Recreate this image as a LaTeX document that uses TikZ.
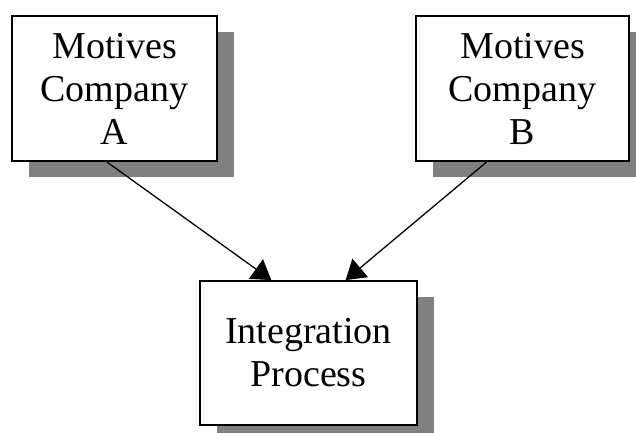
\documentclass[tikz,border=0pt]{standalone}
\usepackage{fontspec}
\setmainfont{Liberation Serif}
\usepackage{tikz}
\usetikzlibrary{shadows,arrows.meta}

\begin{document}
\begin{tikzpicture}[x=1pt,y=1pt,
  motivebox/.style={draw, line width=1.8pt, fill=white, align=center,
    inner sep=0pt, minimum height=145pt,
    font=\fontsize{38}{43}\selectfont,
    drop shadow={shadow xshift=17pt, shadow yshift=-16pt, fill=gray, opacity=1}},
  link/.style={line width=1.3pt, -{Triangle[length=19pt,width=24pt]}}]
\useasboundingbox (0,0) rectangle (636,432);
\node[motivebox, minimum width=205pt] (compA) at (114.5,343.5)
{Motives\\Company\\A};
\node[motivebox, minimum width=213pt] (compB) at (522.5,343.5)
{Motives\\Company\\B};
\node[motivebox, minimum width=217pt, minimum height=144pt] (integ) at (308.5,79)
{Integration\\Process};
\draw[link] (compA.264) -- (integ.117);
\draw[link] (compB.244.5) -- (integ.63);
\end{tikzpicture}
\end{document}
